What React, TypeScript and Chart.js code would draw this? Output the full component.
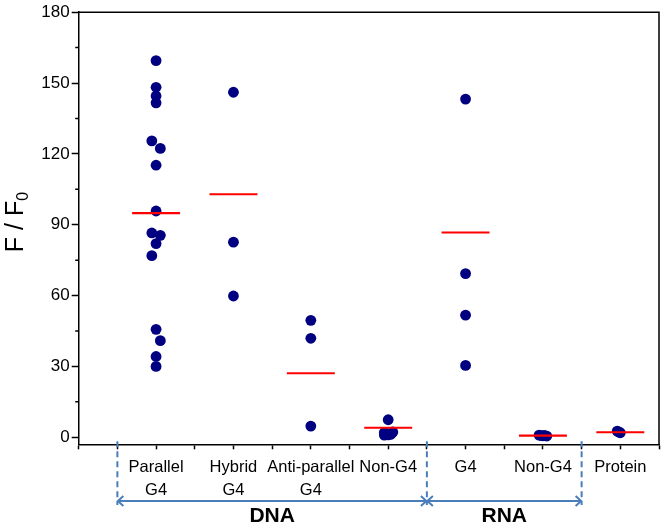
import React, { useEffect, useRef } from "react";
import { Chart, registerables } from "chart.js";

Chart.register(...registerables);

// ---- data ----
const CATEGORY_LABELS: string[][] = [
  ["Parallel", "G4"],
  ["Hybrid", "G4"],
  ["Anti-parallel", "G4"],
  ["Non-G4"],
  ["G4"],
  ["Non-G4"],
  ["Protein"],
];
const CATEGORY_POS = [1, 2, 3, 4, 5, 6, 7];

const DNA_PARALLEL_G4 = [159.5, 148.2, 144.5, 141.6, 125.5, 122.3, 115.2, 95.8, 86.5, 85.5, 82.0, 76.9, 45.7, 40.9, 34.2, 30.0];
const DNA_PARALLEL_G4_JITTER = [0, 0, 0, 0, -0.055, 0.055, 0, 0, -0.055, 0.055, 0, -0.055, 0, 0.055, 0, 0];
const DNA_HYBRID_G4 = [146.1, 82.6, 59.8];
const DNA_HYBRID_G4_JITTER = [0, 0, 0];
const DNA_ANTIPARALLEL_G4 = [49.5, 41.9, 4.7];
const DNA_ANTIPARALLEL_G4_JITTER = [0, 0, 0];
const DNA_NON_G4 = [7.4, 2.2, 2.0, 1.8, 1.5, 1.2, 1.0, 0.9];
const DNA_NON_G4_JITTER = [0, 0.06, -0.05, 0.05, -0.03, 0.03, 0, -0.05];
const RNA_G4 = [143.2, 69.3, 51.7, 30.4];
const RNA_G4_JITTER = [0, 0, 0, 0];
const RNA_NON_G4 = [0.9, 0.7, 0.6, 0.8, 0.5];
const RNA_NON_G4_JITTER = [-0.05, -0.02, 0, 0.02, 0.05];
const PROTEIN = [2.6, 2.2, 1.9];
const PROTEIN_JITTER = [-0.04, -0.02, 0.0];

const MEAN_VALUES = [94.9, 102.9, 27.1, 4.0, 86.7, 0.7, 2.1];
const MEAN_HALF_WIDTH = 0.31;

const Y_TICKS = [0, 30, 60, 90, 120, 150, 180];
const Y_MINOR_TICKS = [15, 45, 75, 105, 135, 165];
const Y_MIN = -3;
const Y_MAX = 180;
const X_MIN = 0;
const X_MAX = 7.5;

const GROUP_LABELS = ["DNA", "RNA"];
const GROUP_BOUNDS = [0.5, 4.5, 6.5];

const SERIES = [
  [DNA_PARALLEL_G4, DNA_PARALLEL_G4_JITTER],
  [DNA_HYBRID_G4, DNA_HYBRID_G4_JITTER],
  [DNA_ANTIPARALLEL_G4, DNA_ANTIPARALLEL_G4_JITTER],
  [DNA_NON_G4, DNA_NON_G4_JITTER],
  [RNA_G4, RNA_G4_JITTER],
  [RNA_NON_G4, RNA_NON_G4_JITTER],
  [PROTEIN, PROTEIN_JITTER],
];

const FONT = "'Liberation Sans', Arial, sans-serif";
const BLUE = "#4a7ebb";

const decorPlugin = {
  id: "decor",
  afterDraw(chart: any) {
    const ctx: CanvasRenderingContext2D = chart.ctx;
    const { left, right, top, bottom } = chart.chartArea;
    const xs = chart.scales.x;
    const ys = chart.scales.y;
    ctx.save();
    // frame top/right
    ctx.strokeStyle = "#000";
    ctx.lineWidth = 1.5;
    ctx.beginPath();
    ctx.moveTo(left, top);
    ctx.lineTo(right, top);
    ctx.lineTo(right, bottom);
    ctx.stroke();
    // minor y ticks
    ctx.beginPath();
    Y_MINOR_TICKS.forEach((v) => {
      const y = ys.getPixelForValue(v);
      ctx.moveTo(left - 3.5, y);
      ctx.lineTo(left, y);
    });
    ctx.stroke();

    // dashed separators
    ctx.strokeStyle = BLUE;
    ctx.lineWidth = 2;
    ctx.setLineDash([6, 4]);
    GROUP_BOUNDS.forEach((b) => {
      const x = xs.getPixelForValue(b);
      ctx.beginPath();
      ctx.moveTo(x, bottom - 3);
      ctx.lineTo(x, 505);
      ctx.stroke();
    });
    ctx.setLineDash([]);

    // arrows + labels
    const ay = 501;
    for (let i = 0; i < GROUP_LABELS.length; i++) {
      const x1 = xs.getPixelForValue(GROUP_BOUNDS[i]);
      const x2 = xs.getPixelForValue(GROUP_BOUNDS[i + 1]);
      ctx.strokeStyle = BLUE;
      ctx.lineWidth = 2;
      ctx.beginPath();
      ctx.moveTo(x1, ay);
      ctx.lineTo(x2, ay);
      ctx.moveTo(x1 + 6, ay - 5);
      ctx.lineTo(x1 + 0.5, ay);
      ctx.lineTo(x1 + 6, ay + 5);
      ctx.moveTo(x2 - 6, ay - 5);
      ctx.lineTo(x2 - 0.5, ay);
      ctx.lineTo(x2 - 6, ay + 5);
      ctx.stroke();
      ctx.fillStyle = "#000";
      ctx.font = `bold 21px ${FONT}`;
      ctx.textAlign = "center";
      ctx.textBaseline = "alphabetic";
      ctx.fillText(GROUP_LABELS[i], (x1 + x2) / 2, 522);
    }

    // y title F / F0
    ctx.translate(23, 222);
    ctx.rotate(-Math.PI / 2);
    ctx.fillStyle = "#000";
    ctx.textAlign = "left";
    ctx.textBaseline = "alphabetic";
    const main = "F / F";
    const sub = "0";
    ctx.font = `25px ${FONT}`;
    const wMain = ctx.measureText(main).width;
    ctx.font = `16px ${FONT}`;
    const wSub = ctx.measureText(sub).width;
    const start = -(wMain + wSub) / 2;
    ctx.font = `25px ${FONT}`;
    ctx.fillText(main, start, 0);
    ctx.font = `16px ${FONT}`;
    ctx.fillText(sub, start + wMain, 5);
    ctx.restore();
  },
};

export default function App() {
  const ref = useRef<HTMLCanvasElement | null>(null);

  useEffect(() => {
    if (!ref.current) return;
    const points: { x: number; y: number }[] = [];
    SERIES.forEach(([vals, jit], i) => {
      vals.forEach((v, j) => points.push({ x: CATEGORY_POS[i] + jit[j], y: v }));
    });
    const meanData: { x: number; y: number | null }[] = [];
    MEAN_VALUES.forEach((m, i) => {
      meanData.push({ x: CATEGORY_POS[i] - MEAN_HALF_WIDTH, y: m });
      meanData.push({ x: CATEGORY_POS[i] + MEAN_HALF_WIDTH, y: m });
      meanData.push({ x: CATEGORY_POS[i] + MEAN_HALF_WIDTH, y: null });
    });

    const chart = new Chart(ref.current, {
      type: "scatter",
      data: {
        datasets: [
          {
            label: "mean",
            data: meanData as any,
            showLine: true,
            spanGaps: false,
            borderColor: "#ff0000",
            borderWidth: 2.2,
            pointRadius: 0,
            order: 0,
          } as any,
          {
            label: "values",
            data: points,
            backgroundColor: "#000080",
            borderColor: "#000080",
            borderWidth: 0,
            pointRadius: 5.4,
            order: 1,
          },
        ],
      },
      options: {
        animation: false,
        responsive: false,
        layout: { padding: { left: 0, top: 12.2, right: 6, bottom: 0 } },
        plugins: {
          legend: { display: false },
          tooltip: { enabled: false },
        },
        scales: {
          x: {
            type: "linear",
            min: X_MIN,
            max: X_MAX,
            grid: {
              drawOnChartArea: false,
              drawTicks: true,
              tickLength: 5,
              tickColor: "#000",
              tickWidth: 1.5,
            },
            border: { display: true, color: "#000", width: 1.5 },
            ticks: {
              stepSize: 0.5,
              autoSkip: false,
              maxRotation: 0,
              minRotation: 0,
              padding: 7,
              color: "#000",
              font: { family: FONT, size: 16.5, lineHeight: 1.375 },
              callback: (value: any) => {
                const v = Number(value);
                if (Number.isInteger(v) && v >= 1 && v <= CATEGORY_LABELS.length) {
                  const lines = CATEGORY_LABELS[v - 1];
                  return lines.length === 1 ? lines[0] : lines;
                }
                return "";
              },
            },
            afterFit: (scale: any) => {
              scale.height = 528 - 444.3;
            },
          },
          y: {
            type: "linear",
            min: Y_MIN,
            max: Y_MAX,
            grid: {
              drawOnChartArea: false,
              drawTicks: true,
              tickLength: 7,
              tickColor: "#000",
              tickWidth: 1.5,
            },
            border: { display: true, color: "#000", width: 1.5 },
            ticks: {
              padding: 2,
              color: "#000",
              font: { family: FONT, size: 17 },
            },
            afterBuildTicks: (scale: any) => {
              scale.ticks = Y_TICKS.map((v) => ({ value: v }));
            },
            afterFit: (scale: any) => {
              scale.width = 78.7;
            },
          },
        },
      },
      plugins: [decorPlugin],
    });
    return () => chart.destroy();
  }, []);

  return (
    <div style={{ position: "absolute", left: 0, top: 0, width: 666, height: 528, background: "#fff" }}>
      <canvas ref={ref} width={666} height={528} />
    </div>
  );
}
